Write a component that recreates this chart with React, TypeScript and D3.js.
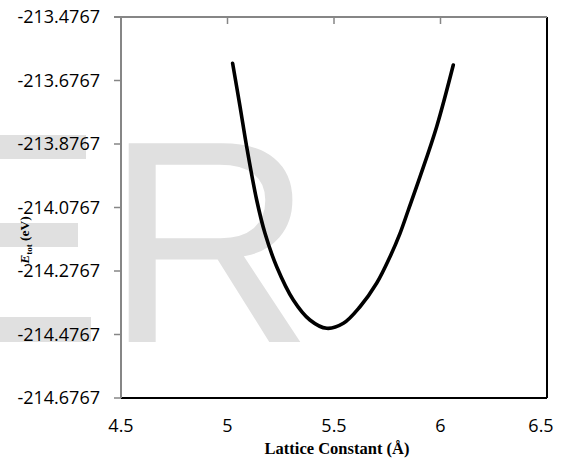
import React from 'react';
import * as d3 from 'd3';

// points
const latticeConstant = [5.024, 5.059, 5.090, 5.137, 5.176, 5.231, 5.309, 5.387, 5.466, 5.544, 5.622, 5.700, 5.763, 5.810, 5.849, 5.904, 5.982, 6.060];
const totalEnergy = [-213.6225, -213.7592, -213.8852, -214.0531, -214.1580, -214.2632, -214.3680, -214.4310, -214.4572, -214.4414, -214.3892, -214.3154, -214.2317, -214.1580, -214.0846, -213.9797, -213.8222, -213.6279];

const xTicks = [4.5, 5, 5.5, 6, 6.5];
const yTicks = [-213.4767, -213.6767, -213.8767, -214.0767, -214.2767, -214.4767, -214.6767];

const width = 570;
const height = 464;
const left = 121;
const right = 547;
const top = 17;
const bottom = 398;

const labelFont = '"Open Sans", sans-serif';
const titleFont = '"Liberation Serif", "Times New Roman", serif';
const markGray = '#e0e0e0';

const App = () => {
  const x = d3.scaleLinear().domain([4.5, 6.5]).range([left, right]);
  const y = d3.scaleLinear().domain([-214.6767, -213.4767]).range([bottom, top]);

  const points = latticeConstant.map((a, i) => [a, totalEnergy[i]] as [number, number]);
  const line = d3.line<[number, number]>()
    .x(d => x(d[0]))
    .y(d => y(d[1]))
    .curve(d3.curveCatmullRom.alpha(0.5));

  return (
    <svg width={width} height={height} style={{ position: 'absolute', left: 0, top: 0, background: '#fff' }}>
      {/* watermark: arms of a cut-off letter and a big R */}
      <rect x={0} y={135} width={86} height={24} fill={markGray} />
      <rect x={0} y={223} width={78} height={24} fill={markGray} />
      <rect x={0} y={317} width={91} height={25} fill={markGray} />
      <text x={105} y={342} fontFamily='"Liberation Sans", Arial, sans-serif' fontSize={289} fill={markGray}>R</text>

      {/* frame */}
      <line x1={right} x2={right} y1={top} y2={bottom} stroke="#000" strokeWidth={2} />
      <line x1={left} x2={right} y1={bottom} y2={bottom} stroke="#000" strokeWidth={2} />
      <line x1={left - 7} x2={right} y1={top} y2={top} stroke="#868686" strokeWidth={2} />
      <line x1={left} x2={left} y1={top} y2={bottom} stroke="#868686" strokeWidth={2} />

      {xTicks.slice(1, -1).map(t => (
        <line key={t} x1={x(t)} x2={x(t)} y1={top} y2={top + 7} stroke="#868686" strokeWidth={1.5} />
      ))}
      {yTicks.map(t => (
        <line key={t} x1={left - 7} x2={left} y1={y(t)} y2={y(t)} stroke="#868686" strokeWidth={1.5} />
      ))}

      <path d={line(points) ?? ''} fill="none" stroke="#000" strokeWidth={3.6} strokeLinecap="round" />

      {yTicks.map(t => (
        <text key={t} x={100} y={y(t)} dy="0.35em" textAnchor="end" fontFamily={labelFont} fontSize={18} fill="#000">
          {t.toFixed(4)}
        </text>
      ))}
      {xTicks.map(t => (
        <text key={t} x={Math.min(x(t), width - 29)} y={432} textAnchor="middle" fontFamily={labelFont} fontSize={18} fill="#000">
          {t}
        </text>
      ))}

      <text x={337} y={454} textAnchor="middle" fontFamily={titleFont} fontSize={16.5} fontWeight="bold">
        Lattice Constant (Å)
      </text>
      <text transform="translate(29,240) rotate(-90)" textAnchor="middle" fontFamily={titleFont} fontSize={13.5} fontWeight="bold">
        <tspan fontStyle="italic">E</tspan>
        <tspan fontSize={9} dy={3}>tot</tspan>
        <tspan dy={-3}> (eV)</tspan>
      </text>
    </svg>
  );
};

export default App;
